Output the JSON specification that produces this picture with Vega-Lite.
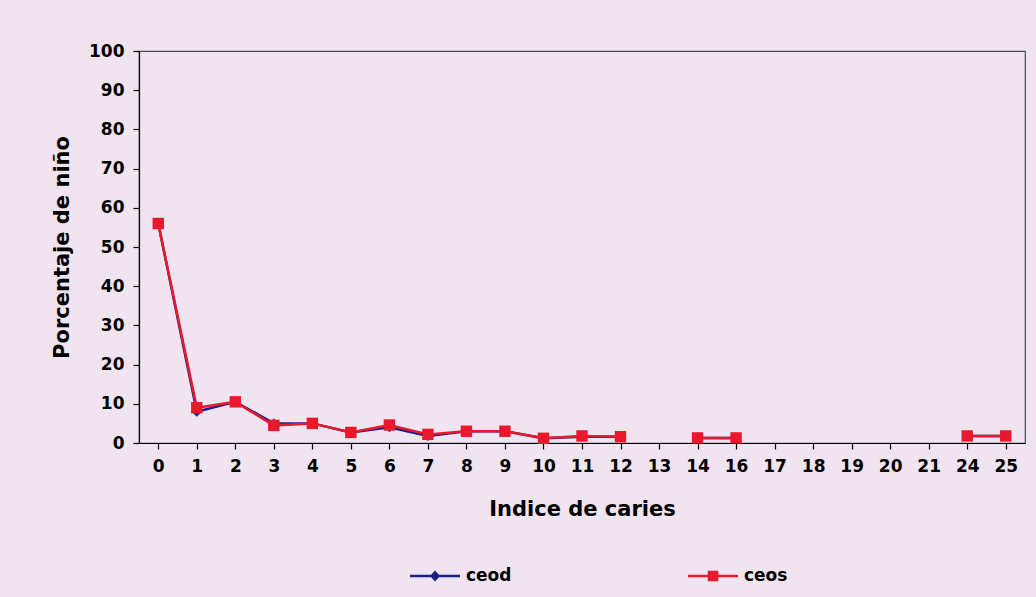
{
  "$schema": "https://vega.github.io/schema/vega-lite/v6.json",
  "width": 886,
  "height": 392,
  "autosize": {"type": "none"},
  "padding": {"left": 139, "top": 51, "right": 11, "bottom": 154},
  "background": "#efe4ef",
  "config": {
    "font": "DejaVu Sans",
    "view": {"stroke": "#4a4a4a", "strokeWidth": 1.2},
    "axis": {
      "labelFontWeight": "bold",
      "titleFontWeight": "bold",
      "labelColor": "black",
      "titleColor": "black",
      "domainColor": "black",
      "tickColor": "black",
      "domainWidth": 1.2,
      "tickWidth": 1.2,
      "grid": false
    }
  },
  "data": {
    "values": [
      {"x": "0", "serie": "ceod", "v": 56},
      {"x": "1", "serie": "ceod", "v": 8},
      {"x": "2", "serie": "ceod", "v": 10.5},
      {"x": "3", "serie": "ceod", "v": 5},
      {"x": "4", "serie": "ceod", "v": 5},
      {"x": "5", "serie": "ceod", "v": 2.7},
      {"x": "6", "serie": "ceod", "v": 4},
      {"x": "7", "serie": "ceod", "v": 1.8},
      {"x": "8", "serie": "ceod", "v": 3},
      {"x": "9", "serie": "ceod", "v": 3},
      {"x": "10", "serie": "ceod", "v": 1.2},
      {"x": "11", "serie": "ceod", "v": 1.6},
      {"x": "12", "serie": "ceod", "v": 1.6},
      {"x": "13", "serie": "ceod", "v": null},
      {"x": "14", "serie": "ceod", "v": 1.3},
      {"x": "16", "serie": "ceod", "v": 1.3},
      {"x": "17", "serie": "ceod", "v": null},
      {"x": "24", "serie": "ceod", "v": 1.8},
      {"x": "25", "serie": "ceod", "v": 1.8},
      {"x": "0", "serie": "ceos", "v": 56},
      {"x": "1", "serie": "ceos", "v": 9},
      {"x": "2", "serie": "ceos", "v": 10.5},
      {"x": "3", "serie": "ceos", "v": 4.5},
      {"x": "4", "serie": "ceos", "v": 5},
      {"x": "5", "serie": "ceos", "v": 2.7},
      {"x": "6", "serie": "ceos", "v": 4.6},
      {"x": "7", "serie": "ceos", "v": 2.2},
      {"x": "8", "serie": "ceos", "v": 3},
      {"x": "9", "serie": "ceos", "v": 3},
      {"x": "10", "serie": "ceos", "v": 1.2},
      {"x": "11", "serie": "ceos", "v": 1.8},
      {"x": "12", "serie": "ceos", "v": 1.6},
      {"x": "13", "serie": "ceos", "v": null},
      {"x": "14", "serie": "ceos", "v": 1.3},
      {"x": "16", "serie": "ceos", "v": 1.3},
      {"x": "17", "serie": "ceos", "v": null},
      {"x": "24", "serie": "ceos", "v": 1.8},
      {"x": "25", "serie": "ceos", "v": 1.8}
    ]
  },
  "encoding": {
    "x": {
      "field": "x",
      "type": "ordinal",
      "scale": {
        "domain": ["0","1","2","3","4","5","6","7","8","9","10","11","12","13","14","16","17","18","19","20","21","24","25"],
        "paddingInner": 0,
        "paddingOuter": 0
      },
      "axis": {
        "title": "Indice de caries",
        "labelAngle": 0,
        "bandPosition": 0,
        "tickSize": 6,
        "labelPadding": 9,
        "titlePadding": 24,
        "labelFontSize": 17,
        "titleFontSize": 21
      }
    },
    "y": {
      "field": "v",
      "type": "quantitative",
      "scale": {"domain": [0, 100], "nice": false},
      "axis": {
        "title": "Porcentaje de niño",
        "values": [0,10,20,30,40,50,60,70,80,90,100],
        "tickSize": 6,
        "labelPadding": 9,
        "titlePadding": 16,
        "labelFontSize": 17,
        "titleFontSize": 21
      }
    }
  },
  "layer": [
    {
      "transform": [{"filter": "datum.serie === 'ceod'"}],
      "mark": {"type": "line", "color": "#1b1f8a", "strokeWidth": 2.5, "invalid": "break-paths-show-domains"},
      "encoding": {}
    },
    {
      "transform": [{"filter": "datum.serie === 'ceod'"}],
      "mark": {"type": "point", "shape": "diamond", "filled": true, "size": 100, "opacity": 1, "color": "#1b1f8a"},
      "encoding": {}
    },
    {
      "transform": [{"filter": "datum.serie === 'ceos'"}],
      "mark": {"type": "line", "color": "#e8192c", "strokeWidth": 2.5, "invalid": "break-paths-show-domains"},
      "encoding": {}
    },
    {
      "transform": [{"filter": "datum.serie === 'ceos'"}],
      "mark": {"type": "point", "shape": "square", "filled": true, "size": 130, "opacity": 1, "color": "#e8192c"},
      "encoding": {}
    },
    {
      "transform": [{"filter": "datum.v > 999"}],
      "mark": {"type": "point", "filled": true, "opacity": 1},
      "encoding": {
        "color": {
          "field": "serie",
          "type": "nominal",
          "scale": {"domain": ["ceod", "ceos"], "range": ["#1b1f8a", "#e8192c"]},
          "legend": {
            "title": null,
            "orient": "none",
            "legendX": 271,
            "legendY": 500,
            "direction": "horizontal",
            "symbolSize": 2500,
            "symbolStrokeWidth": 0,
            "labelOffset": 6,
            "columnPadding": 176,
            "labelFontSize": 17,
            "labelFontWeight": "bold",
            "labelColor": "black"
          }
        },
        "shape": {
          "field": "serie",
          "type": "nominal",
          "scale": {
            "domain": ["ceod", "ceos"],
            "range": [
              "M-1,-0.05H1V0.05H-1Z M0,-0.22L0.2,0L0,0.22L-0.2,0Z",
              "M-1,-0.05H1V0.05H-1Z M-0.21,-0.21H0.21V0.21H-0.21Z"
            ]
          },
          "legend": {
            "title": null,
            "orient": "none",
            "legendX": 271,
            "legendY": 500,
            "direction": "horizontal",
            "symbolSize": 2500,
            "symbolStrokeWidth": 0,
            "labelOffset": 6,
            "columnPadding": 176,
            "labelFontSize": 17,
            "labelFontWeight": "bold",
            "labelColor": "black"
          }
        }
      }
    }
  ]
}
